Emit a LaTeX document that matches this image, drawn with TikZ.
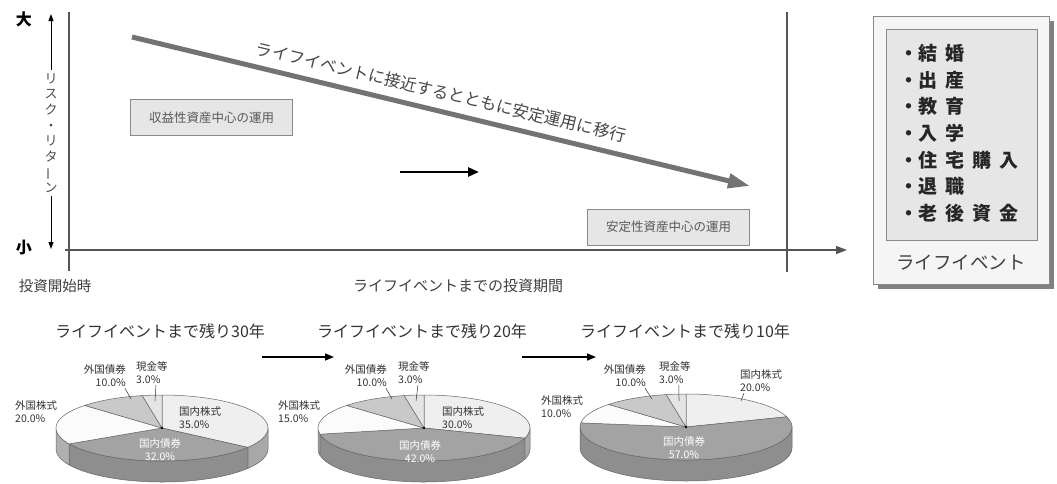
\documentclass[tikz,border=0pt]{standalone}
\usepackage{fontspec}
\setmainfont{Noto Sans CJK JP}
\usetikzlibrary{arrows.meta}
\definecolor{axisgray}{HTML}{555555}
\definecolor{edgegray}{HTML}{666666}
\definecolor{txtgray}{HTML}{333333}
\definecolor{boxfill}{HTML}{E6E6E6}
\definecolor{boxline}{HTML}{8A8A8A}
\definecolor{bigarrow}{HTML}{737373}
\definecolor{cA}{HTML}{EFEFEF}
\definecolor{cB}{HTML}{A3A3A3}
\definecolor{cC}{HTML}{FBFBFB}
\definecolor{cD}{HTML}{C9C9C9}
\definecolor{cE}{HTML}{E4E4E4}
\definecolor{sA}{HTML}{A8A8A8}
\definecolor{sB}{HTML}{8E8E8E}
\definecolor{sC}{HTML}{B0B0B0}
\newcommand{\mypietop}[3]{\filldraw[fill=#3,draw=edgegray,line width=0.5pt,line join=round] (0,0) -- (#1:106 and 33) arc[start angle=#1,end angle=#2,x radius=106,y radius=33] -- cycle;}
\newcommand{\mypieside}[3]{\filldraw[fill=#3,draw=edgegray,line width=0.5pt,line join=round] (#1:106 and 33) arc[start angle=#1,end angle=#2,x radius=106,y radius=33] -- ++(0,-21) arc[start angle=#2,end angle=#1,x radius=106,y radius=33] -- cycle;}
\newcommand{\gp}{\hspace{8pt}}
\tikzset{
  smalllbl/.style={font=\fontsize{10.5}{13}\selectfont, text=txtgray, inner sep=0pt},
  whitelbl/.style={font=\fontsize{10.5}{13}\selectfont, text=white, inner sep=0pt, align=center},
  pietitle/.style={font=\fontsize{16}{18}\selectfont, text=txtgray, inner sep=0pt},
  modebox/.style={draw=boxline, fill=boxfill, line width=1pt, minimum width=162pt, minimum height=36pt, inner sep=0pt, font=\fontsize{12.5}{14}\selectfont, text=black!65},
  evitem/.style={font=\fontsize{19}{22}\bfseries\selectfont, text=black!85, anchor=west, inner sep=0pt},
  leader/.style={draw=txtgray, line width=0.5pt},
  flowarrow/.style={draw=black, line width=1.5pt, -{Triangle[length=9pt,width=7pt]}},
}
\begin{document}
\begin{tikzpicture}[x=1pt,y=-1pt]
\useasboundingbox (0,0) rectangle (1057,483);
\fill[white] (0,0) rectangle (1057,483);

% axes
\coordinate (ytop) at (69,12);
\coordinate (ybot) at (69,271);
\coordinate (xleft) at (65,250);
\coordinate (xright) at (847,250);
\coordinate (vtop) at (787,12);
\coordinate (vbot) at (787,272);
\draw[axisgray, line width=1.5pt] (ytop) -- (ybot);
\draw[axisgray, line width=1.5pt, -{Triangle[length=11pt,width=8pt]}] (xleft) -- (xright);
\draw[axisgray, line width=1.3pt] (vtop) -- (vbot);

% risk/return labels
\node[font=\fontsize{16}{18}\bfseries\selectfont, inner sep=0pt] (big) at (24,19) {大};
\node[font=\fontsize{16}{18}\bfseries\selectfont, inner sep=0pt] (small) at (24,248) {小};
\node[font=\fontsize{13}{15.6}\selectfont, text=black!70, align=center, inner sep=0pt] (rr) at (51,133) {リ\\ス\\ク\\・\\リ\\タ\\\rotatebox[origin=c]{90}{ー}\\ン};
\coordinate (rrtop) at (51,14);
\coordinate (rrbot) at (51,249);
\draw[black, line width=1pt, -{Triangle[length=7pt,width=5pt]}] (rr.north) ++(0,-3) -- (rrtop);
\draw[black, line width=1pt, -{Triangle[length=7pt,width=5pt]}] (rr.south) ++(0,3) -- (rrbot);

% big trend arrow
\coordinate (trs) at (132,37);
\coordinate (tre) at (750,186);
\draw[bigarrow, line width=5pt, -{Triangle[length=22pt,width=14pt]}] (trs) -- (tre);
\node[font=\fontsize{16.5}{18}\selectfont, text=black!72, rotate=-13.4, inner sep=0pt] (trendtxt) at (441,92) {ライフイベントに接近するとともに安定運用に移行};

% mode boxes
\node[modebox] (growth) at (211.5,117.5) {収益性資産中心の運用};
\node[modebox] (stable) at (668.5,227) {安定性資産中心の運用};

% short arrow
\coordinate (sa1) at (400,172);
\coordinate (sa2) at (479,172);
\draw[black, line width=2.5pt, -{Triangle[length=11pt,width=9pt]}] (sa1) -- (sa2);

% axis captions
\node[font=\fontsize{14.5}{16}\selectfont, text=black!75, inner sep=0pt] (start) at (55,286) {投資開始時};
\node[font=\fontsize{15}{16}\selectfont, text=black!75, inner sep=0pt] (period) at (458,286) {ライフイベントまでの投資期間};

% life event box
\fill[black!50] (878,21) rectangle (1054,289);
\filldraw[fill=white!96!black, draw=boxline, line width=1pt] (873,16) rectangle (1049,284);
\filldraw[fill=boxfill, draw=boxline, line width=1pt] (886,29) rectangle (1037,240);
\node[evitem] (ev1) at (899,53.5) {・結\gp 婚};
\node[evitem] (ev2) at (899,80) {・出\gp 産};
\node[evitem] (ev3) at (899,106.5) {・教\gp 育};
\node[evitem] (ev4) at (899,133.5) {・入\gp 学};
\node[evitem] (ev5) at (899,160) {・住\gp 宅\gp 購\gp 入};
\node[evitem] (ev6) at (899,186.5) {・退\gp 職};
\node[evitem] (ev7) at (899,213.5) {・老\gp 後\gp 資\gp 金};
\node[font=\fontsize{18.5}{20}\selectfont, text=black!75, inner sep=0pt] (evtitle) at (961,263) {ライフイベント};

% pie titles and flow arrows
\node[pietitle] (t30) at (160,331) {ライフイベントまで残り30年};
\node[pietitle] (t20) at (422,331) {ライフイベントまで残り20年};
\node[pietitle] (t10) at (685,331) {ライフイベントまで残り10年};
\coordinate (fa1) at (262,357);
\coordinate (fa2) at (334,357);
\coordinate (fb1) at (522,357);
\coordinate (fb2) at (596,357);
\draw[flowarrow] (fa1) -- (fa2);
\draw[flowarrow] (fb1) -- (fb2);

% pie 1
\begin{scope}[shift={(162,428)}, y=1pt]
\mypieside{0}{-36}{sA}
\mypieside{-36}{-151.2}{sB}
\mypieside{-151.2}{-180}{sC}
\mypietop{90}{-36}{cA}
\mypietop{-36}{-151.2}{cB}
\mypietop{-151.2}{-223.2}{cC}
\mypietop{-223.2}{-259.2}{cD}
\mypietop{-259.2}{-270}{cE}
\fill (0,0) circle (1.3pt);
\end{scope}
% pie 2
\begin{scope}[shift={(424,428)}, y=1pt]
\mypieside{0}{-18}{sA}
\mypieside{-18}{-169.2}{sB}
\mypieside{-169.2}{-180}{sC}
\mypietop{90}{-18}{cA}
\mypietop{-18}{-169.2}{cB}
\mypietop{-169.2}{-223.2}{cC}
\mypietop{-223.2}{-259.2}{cD}
\mypietop{-259.2}{-270}{cE}
\fill (0,0) circle (1.3pt);
\end{scope}
% pie 3
\begin{scope}[shift={(686,427)}, y=1pt]
\mypieside{0}{-180}{sB}
\mypietop{90}{18}{cA}
\mypietop{18}{-187.2}{cB}
\mypietop{-187.2}{-223.2}{cC}
\mypietop{-223.2}{-259.2}{cD}
\mypietop{-259.2}{-270}{cE}
\fill (0,0) circle (1.3pt);
\end{scope}

% pie 1 labels
\node[smalllbl, align=left, anchor=west] (p1fs) at (15,412) {外国株式\\20.0\%};
\node[smalllbl, align=right, anchor=east] (p1fb) at (126,376) {外国債券\\10.0\%};
\node[smalllbl, align=left, anchor=west] (p1cash) at (136,373) {現金等\\3.0\%};
\node[smalllbl, align=left, anchor=west] (p1ds) at (179,418) {国内株式\\35.0\%};
\node[whitelbl] (p1db) at (160,450) {国内債券\\32.0\%};
\coordinate (p1fbl) at (131,399);
\coordinate (p1cl) at (155,401);
\draw[leader] (p1fb.south east) ++(-1,1) -- (p1fbl);
\draw[leader] (p1cash.south) ++(4,1) -- (p1cl);

% pie 2 labels
\node[smalllbl, align=left, anchor=west] (p2fs) at (278,412) {外国株式\\15.0\%};
\node[smalllbl, align=right, anchor=east] (p2fb) at (387,376) {外国債券\\10.0\%};
\node[smalllbl, align=left, anchor=west] (p2cash) at (398,373) {現金等\\3.0\%};
\node[smalllbl, align=left, anchor=west] (p2ds) at (442,418) {国内株式\\30.0\%};
\node[whitelbl] (p2db) at (420,452) {国内債券\\42.0\%};
\coordinate (p2fbl) at (392,399);
\coordinate (p2cl) at (416,401);
\draw[leader] (p2fb.south east) ++(-1,1) -- (p2fbl);
\draw[leader] (p2cash.south) ++(4,1) -- (p2cl);

% pie 3 labels
\node[smalllbl, align=left, anchor=west] (p3fs) at (541,407) {外国株式\\10.0\%};
\node[smalllbl, align=right, anchor=east] (p3fb) at (646,376) {外国債券\\10.0\%};
\node[smalllbl, align=left, anchor=west] (p3cash) at (659,373) {現金等\\3.0\%};
\node[smalllbl, align=left, anchor=west] (p3ds) at (740,381) {国内株式\\20.0\%};
\node[whitelbl] (p3db) at (684,448) {国内債券\\57.0\%};
\coordinate (p3fbl) at (652,399);
\coordinate (p3cl) at (679,401);
\coordinate (p3dsl) at (741,401);
\draw[leader] (p3fb.south east) ++(-1,1) -- (p3fbl);
\draw[leader] (p3cash.south) ++(4,1) -- (p3cl);
\draw[leader] (p3ds.south west) ++(4,1) -- (p3dsl);
\end{tikzpicture}
\end{document}
